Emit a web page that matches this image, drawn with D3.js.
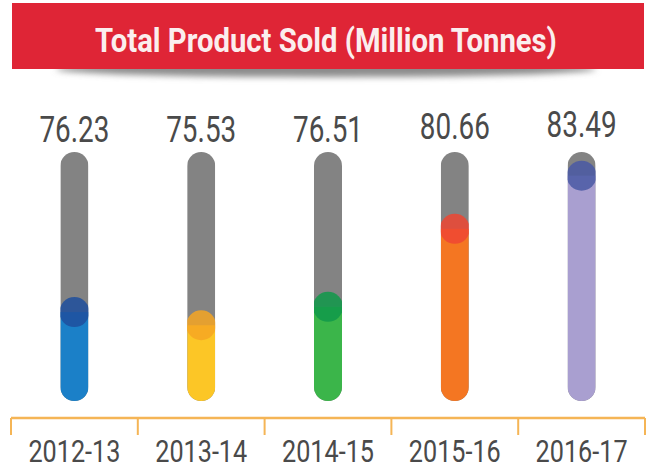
<!DOCTYPE html>
<html>
<head>
<meta charset="utf-8">
<script src="https://cdn.jsdelivr.net/npm/d3@7"></script>
<style>
  body { margin: 0; background: #fff; }
  svg { display: block; }
</style>
</head>
<body>
<div id="chart"></div>
<script>

// --------------------------------------
//  Data
// --------------------------------------

const years = ["2012-13", "2013-14", "2014-15", "2015-16", "2016-17"];
const sold = [76.23, 75.53, 76.51, 80.66, 83.49];
const fillColors = ["#1b80c8", "#fcc626", "#3bb54a", "#f47622", "#a99fd0"];
const knobColors = ["#1f4f9e", "#f6a623", "#11994a", "#ee4733", "#4a59a5"];
const title = "Total Product Sold (Million Tonnes)";

const data = years.map((d, i) => ({
  year: d,
  value: sold[i],
  fill: fillColors[i],
  knob: knobColors[i]
}));

// --------------------------------------
//  Canvas
// --------------------------------------

const width = 648;
const height = 473;

const svg = d3.select("#chart")
  .append("svg")
    .attr("width", width)
    .attr("height", height)
    .attr("viewBox", `0 0 ${width} ${height}`);

const defs = svg.append("defs");

// squeeze a text horizontally so it looks like the condensed face of the original
function squeeze(sel, target) {
  sel.each(function () {
    const w = this.getComputedTextLength();
    const k = Math.min(1, target / w);
    const cx = +d3.select(this).attr("x") || 0;
    d3.select(this).attr("transform", `translate(${cx * (1 - k)}, 0) scale(${k}, 1)`);
  });
}

// --------------------------------------
//  Scales
// --------------------------------------

const x = d3.scaleBand()
    .domain(years)
    .range([11, 645]);

const y = d3.scaleLinear()
    .domain([71.5, 84.75])
    .range([401, 152]);

// labels sit a touch higher for the bigger values
const labelY = d3.scaleLinear()
    .domain([76, 83.5])
    .range([142, 137]);

const barW = 28;

// --------------------------------------
//  Title banner
// --------------------------------------

defs.append("filter")
    .attr("id", "blur")
    .attr("x", "-10%").attr("y", "-100%")
    .attr("width", "120%").attr("height", "300%")
  .append("feGaussianBlur")
    .attr("stdDeviation", 3);

svg.append("ellipse")
    .attr("cx", 326)
    .attr("cy", 69)
    .attr("rx", 270)
    .attr("ry", 8)
    .attr("fill", "#8c8c8c")
    .attr("filter", "url(#blur)");

svg.append("rect")
    .attr("x", 12)
    .attr("y", 3)
    .attr("width", 632)
    .attr("height", 66)
    .attr("fill", "#df2536");

svg.append("text")
    .attr("x", 326)
    .attr("y", 52)
    .attr("text-anchor", "middle")
    .attr("font-family", "Roboto, 'Open Sans', sans-serif")
    .attr("font-weight", "bold")
    .attr("font-size", 34)
    .attr("fill", "#fbeeee")
    .text(title)
    .call(squeeze, 462);

// --------------------------------------
//  Bars
// --------------------------------------

const bars = svg.selectAll(".bar")
  .data(data)
  .join("g")
    .attr("class", "bar")
    .attr("transform", d => `translate(${x(d.year) + x.bandwidth() / 2}, 0)`);

bars.append("clipPath")
    .attr("id", (d, i) => `pill${i}`)
  .append("rect")
    .attr("x", -barW / 2)
    .attr("y", y.range()[1])
    .attr("width", barW)
    .attr("height", y.range()[0] - y.range()[1])
    .attr("rx", barW / 2);

const inner = bars.append("g")
    .attr("clip-path", (d, i) => `url(#pill${i})`);

inner.append("rect")
    .attr("x", -barW / 2)
    .attr("y", y.range()[1])
    .attr("width", barW)
    .attr("height", y.range()[0] - y.range()[1])
    .attr("fill", "#838383");

inner.append("rect")
    .attr("x", -barW / 2)
    .attr("y", d => y(d.value))
    .attr("width", barW)
    .attr("height", d => y.range()[0] - y(d.value))
    .attr("fill", d => d.fill);

inner.append("circle")
    .attr("cx", 0)
    .attr("cy", d => y(d.value))
    .attr("r", 15)
    .attr("fill", d => d.knob)
    .attr("opacity", 0.85);

bars.append("text")
    .attr("y", d => labelY(d.value))
    .attr("text-anchor", "middle")
    .attr("font-family", "Roboto, sans-serif")
    .attr("font-size", 37)
    .attr("fill", "#4a4a4a")
    .text(d => d.value.toFixed(2))
    .call(squeeze, 70);

// --------------------------------------
//  Axis
// --------------------------------------

const axisColor = "#f5b556";

svg.append("line")
    .attr("x1", x.range()[0])
    .attr("x2", x.range()[1])
    .attr("y1", 418)
    .attr("y2", 418)
    .attr("stroke", axisColor)
    .attr("stroke-width", 2.5);

const edges = years.map(d => x(d)).concat([x.range()[1]]);

svg.selectAll(".edge")
  .data(edges)
  .join("line")
    .attr("class", "edge")
    .attr("x1", d => d)
    .attr("x2", d => d)
    .attr("y1", 418)
    .attr("y2", 435)
    .attr("stroke", axisColor)
    .attr("stroke-width", 2);

const xAxis = svg.append("g")
    .attr("class", "x-axis")
    .attr("transform", "translate(0, 418)")
    .call(d3.axisBottom(x)
          .tickSize(0)
          .tickPadding(22));

xAxis.select(".domain").remove();

xAxis.selectAll("text")
    .attr("font-family", "Roboto, sans-serif")
    .attr("font-size", 31)
    .attr("fill", "#4a4a4a")
    .call(squeeze, 92);

</script>
</body>
</html>
